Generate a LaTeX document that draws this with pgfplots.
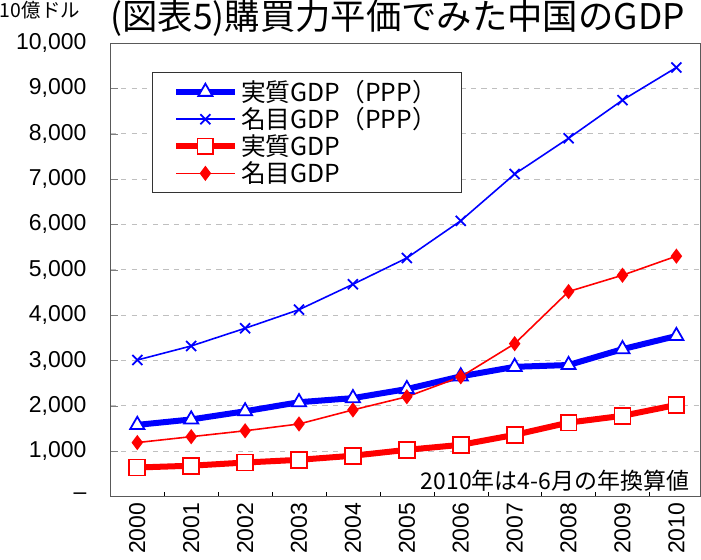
\documentclass[border=0pt]{standalone}
\usepackage{pgfplots}
\pgfplotsset{compat=1.18}
\usepackage{fontspec}
\setmainfont{Liberation Sans}
\newfontfamily\jp{Noto Sans CJK JP}

% values in billion USD
\pgfplotstableread{
x  realppp nomppp  real  nom
0  1580    3010    640   1190
1  1700    3320    680   1320
2  1880    3710    750   1450
3  2080    4120    810   1600
4  2170    4680    900   1910
5  2370    5260    1030  2200
6  2650    6080    1140  2640
7  2860    7110    1360  3370
8  2900    7900    1630  4520
9  3250    8740    1780  4880
10 3540    9460    2020  5300
}\gdp

\begin{document}
\begin{tikzpicture}
\begin{axis}[
    name=ax,
    scale only axis,
    width=11.74cm, height=9.02cm,
    xmin=-0.5, xmax=10.45,
    ymin=0, ymax=10000,
    scaled y ticks=false,
    xtick={0,...,10},
    xticklabels={2000,2001,2002,2003,2004,2005,2006,2007,2008,2009,2010},
    x tick label style={rotate=90, anchor=east, font=\fontsize{13}{13}\selectfont},
    major x tick style={draw=none},
    minor xtick={0.5,1.5,...,9.5},
    minor x tick style={black},
    xtick pos=bottom,
    ytick={0,1000,...,10000},
    yticklabels={--,{1,000},{2,000},{3,000},{4,000},{5,000},{6,000},{7,000},{8,000},{9,000},{10,000}},
    y tick label style={font=\fontsize{13}{13}\selectfont, xshift=-10pt},
    ytick pos=left,
    tick align=inside,
    ymajorgrids,
    grid style={dashed, gray!50},
    axis line style={black!65},
    legend style={at={(rel axis cs:0.07,0.935)}, anchor=north west,
        font=\jp\fontsize{14}{16}\selectfont, draw=black!80,
        inner xsep=12pt, inner ysep=2pt, row sep=-2pt},
    legend cell align=left,
    legend image code/.code={\draw[mark repeat=2,mark phase=2,#1]
        plot coordinates {(0cm,0cm)(0.58cm,0cm)(1.16cm,0cm)};},
]
\addplot[blue, line width=3.4pt, mark=triangle*, mark size=4.6pt,
    mark options={solid, fill=white, draw=blue, line width=1pt}]
    table[x=x, y=realppp] {\gdp};
\addlegendentry{実質GDP（PPP）}
\addplot[blue, line width=0.9pt, mark=x, mark size=4pt,
    mark options={solid, line width=1pt}]
    table[x=x, y=nomppp] {\gdp};
\addlegendentry{名目GDP（PPP）}
\addplot[red, line width=3.4pt, mark=square*, mark size=4.5pt,
    mark options={solid, fill=white, draw=red, line width=1pt}]
    table[x=x, y=real] {\gdp};
\addlegendentry{実質GDP}
\addplot[red, line width=0.9pt, mark=diamond*, mark size=3.6pt,
    mark options={solid, fill=red}]
    table[x=x, y=nom] {\gdp};
\addlegendentry{名目GDP}

\node[anchor=south east, inner sep=0pt, font=\jp\fontsize{13}{13}\selectfont]
    at (rel axis cs:0.981,0.011) {2010年は4-6月の年換算値};
\end{axis}
% title and unit above the plot area
\node[anchor=south west, inner sep=0pt, font=\jp\fontsize{20}{20}\selectfont]
    at ([yshift=0.12cm]ax.north west) {(図表5)購買力平価でみた中国のGDP};
\node[inner sep=0pt, font=\jp\fontsize{11}{11}\selectfont]
    at ([xshift=-1.4cm, yshift=0.66cm]ax.north west) {10億ドル};
\end{tikzpicture}
\end{document}
